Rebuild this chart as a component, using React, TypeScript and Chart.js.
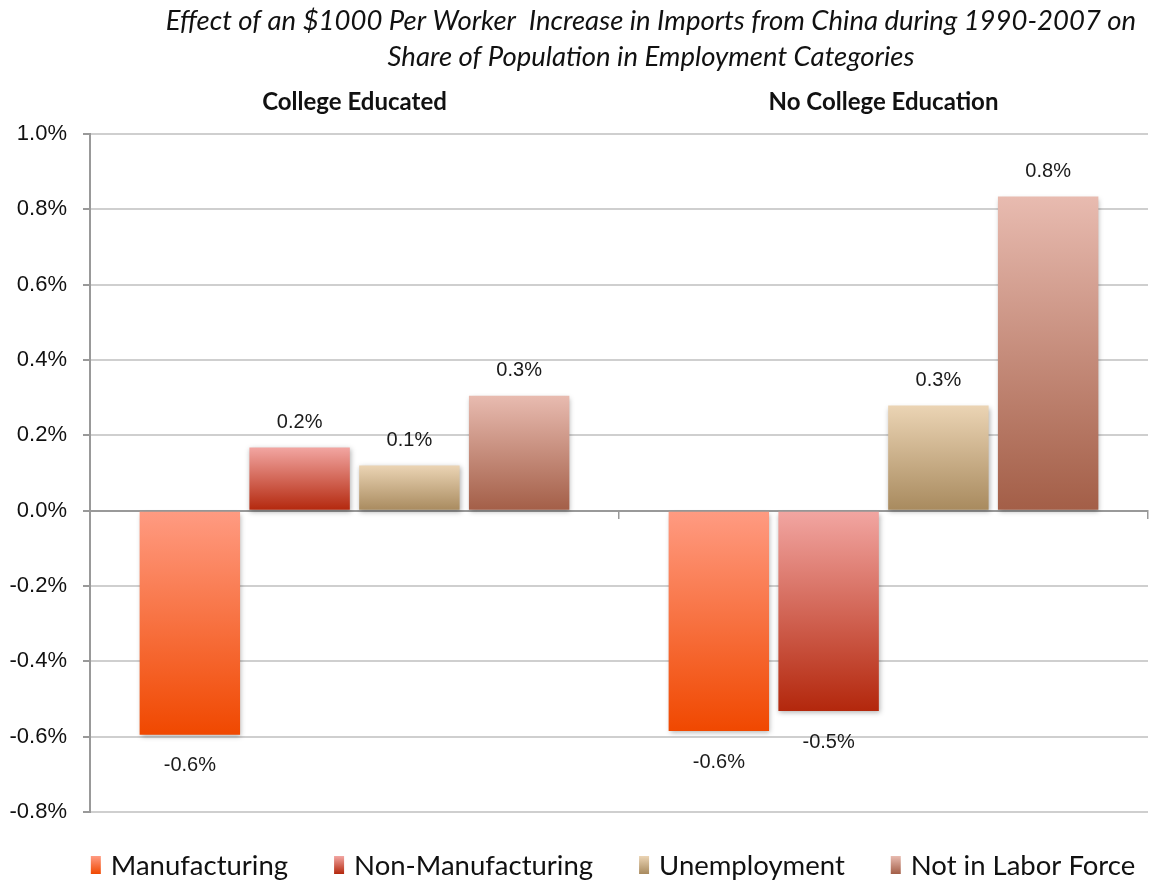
import React, { useEffect, useRef } from "react";
import { Chart, registerables } from "chart.js";

Chart.register(...registerables);

const titleLines = [
  "Effect of an $1000 Per Worker  Increase in Imports from China during 1990-2007 on",
  "Share of Population in Employment Categories",
];
const categories = ["College Educated", "No College Education"];
const seriesNames = ["Manufacturing", "Non-Manufacturing", "Unemployment", "Not in Labor Force"];
const manufacturing = [-0.595, -0.585];
const nonManufacturing = [0.168, -0.532];
const unemployment = [0.12, 0.279];
const notInLaborForce = [0.305, 0.834];
const yTicks = [-0.8, -0.6, -0.4, -0.2, 0.0, 0.2, 0.4, 0.6, 0.8, 1.0];

const gradTop = ["#ff9b82", "#f2a6a2", "#ebd4b4", "#e8bbb0"];
const gradBottom = ["#f04800", "#b3270c", "#a88a5e", "#a35e47"];

const fmt = (v: number) => (Math.abs(v) < 1e-9 ? "0.0" : v.toFixed(1)) + "%";

const gradientFill = (i: number) => (ctx: any) => {
  const chart = ctx.chart;
  const y = chart.scales && chart.scales.y;
  if (!y || ctx.type !== "data" || typeof ctx.raw !== "number") return gradBottom[i];
  const v = ctx.raw as number;
  const y0 = y.getPixelForValue(Math.max(v, 0));
  const y1 = y.getPixelForValue(Math.min(v, 0));
  if (!isFinite(y0) || !isFinite(y1) || y0 === y1) return gradBottom[i];
  const g = chart.ctx.createLinearGradient(0, y0, 0, y1);
  g.addColorStop(0, gradTop[i]);
  g.addColorStop(1, gradBottom[i]);
  return g;
};

const shadowPlugin = {
  id: "barShadow",
  beforeDatasetsDraw(chart: any) {
    const c = chart.ctx;
    c.save();
    c.shadowColor = "rgba(0,0,0,0.3)";
    c.shadowBlur = 5;
    c.shadowOffsetX = 1;
    c.shadowOffsetY = 2;
  },
  afterDatasetsDraw(chart: any) {
    chart.ctx.restore();
  },
};

const decorPlugin = {
  id: "decor",
  afterDraw(chart: any) {
    const c = chart.ctx as CanvasRenderingContext2D;
    const area = chart.chartArea;
    c.save();
    // title
    c.fillStyle = "#111";
    c.font = "italic 27.5px Lato";
    c.textAlign = "center";
    c.textBaseline = "alphabetic";
    c.fillText(titleLines[0], 651, 30);
    c.fillText(titleLines[1], 651, 66);
    // group labels
    c.font = "bold 24px Lato";
    c.textBaseline = "middle";
    const xs = chart.scales.x;
    categories.forEach((cat, i) => {
      c.fillText(cat, xs.getPixelForValue(i), 102);
    });
    // value labels
    c.font = "20px 'Liberation Sans', Arial, sans-serif";
    c.fillStyle = "#1a1a1a";
    chart.data.datasets.forEach((ds: any, di: number) => {
      const meta = chart.getDatasetMeta(di);
      meta.data.forEach((bar: any, j: number) => {
        const v = ds.data[j] as number;
        const y = v >= 0 ? bar.y - 25 : bar.y + 31;
        c.fillText(fmt(v), bar.x, y);
      });
    });
    // legend
    c.font = "27.5px Lato";
    const boxW = 10, boxH = 18, boxGap = 10, itemGap = 46;
    const widths = seriesNames.map((n) => c.measureText(n).width);
    const total = widths.reduce((a, w) => a + boxW + boxGap + w, 0) + itemGap * (seriesNames.length - 1);
    let x = (area.left + area.right) / 2 - total / 2 - 6;
    const ly = 865;
    c.textAlign = "left";
    seriesNames.forEach((n, i) => {
      const g = c.createLinearGradient(0, ly - boxH / 2, 0, ly + boxH / 2);
      g.addColorStop(0, gradTop[i]);
      g.addColorStop(1, gradBottom[i]);
      c.fillStyle = g;
      c.fillRect(x, ly - boxH / 2, boxW, boxH);
      c.fillStyle = "#111";
      c.fillText(n, x + boxW + boxGap, ly + 1);
      x += boxW + boxGap + widths[i] + itemGap;
    });
    c.restore();
  },
};

export default function App() {
  const ref = useRef<HTMLCanvasElement | null>(null);
  useEffect(() => {
    if (!ref.current) return;
    const series = [manufacturing, nonManufacturing, unemployment, notInLaborForce];
    const chart = new Chart(ref.current, {
      type: "bar",
      data: {
        labels: categories,
        datasets: series.map((d, i) => ({
          label: seriesNames[i],
          data: d,
          backgroundColor: gradientFill(i),
          borderWidth: 0,
          categoryPercentage: 0.83,
          barPercentage: 0.915,
        })),
      },
      options: {
        animation: false,
        responsive: false,
        maintainAspectRatio: false,
        layout: { padding: { top: 134, right: 2, bottom: 70, left: 0 } },
        plugins: {
          legend: { display: false },
          title: { display: false },
          tooltip: { enabled: false },
        },
        scales: {
          x: {
            type: "category",
            position: { y: 0 } as any,
            offset: true,
            ticks: { display: false },
            grid: {
              display: true,
              offset: true,
              drawOnChartArea: false,
              drawTicks: true,
              tickLength: 7,
              color: "#999999",
              lineWidth: 1.5,
            },
            border: { display: true, color: "#999999", width: 2 },
          },
          y: {
            min: -0.8,
            max: 1.0,
            afterBuildTicks: (s: any) => {
              s.ticks = yTicks.map((v) => ({ value: v }));
            },
            afterFit: (s: any) => {
              s.width = 90;
              s.paddingTop = 0;
              s.paddingBottom = 0;
            },
            ticks: {
              callback: (v: any) => fmt(Number(v)),
              color: "#111",
              padding: 16,
              font: { family: "'Liberation Sans', Arial, sans-serif", size: 22 },
            },
            grid: {
              color: (ctx: any) => (ctx.tick && Math.abs(ctx.tick.value) < 1e-9 ? "#999999" : "#cfcfcf"),
              lineWidth: 2,
              tickLength: 7,
              tickColor: "#999999",
            },
            border: { display: true, color: "#999999", width: 2 },
          },
        },
      },
      plugins: [shadowPlugin, decorPlugin],
    });
    return () => chart.destroy();
  }, []);
  return (
    <div style={{ position: "absolute", left: 0, top: 0, width: 1150, height: 882, background: "#fff" }}>
      <canvas ref={ref} width={1150} height={882} style={{ width: 1150, height: 882, display: "block" }} />
    </div>
  );
}
